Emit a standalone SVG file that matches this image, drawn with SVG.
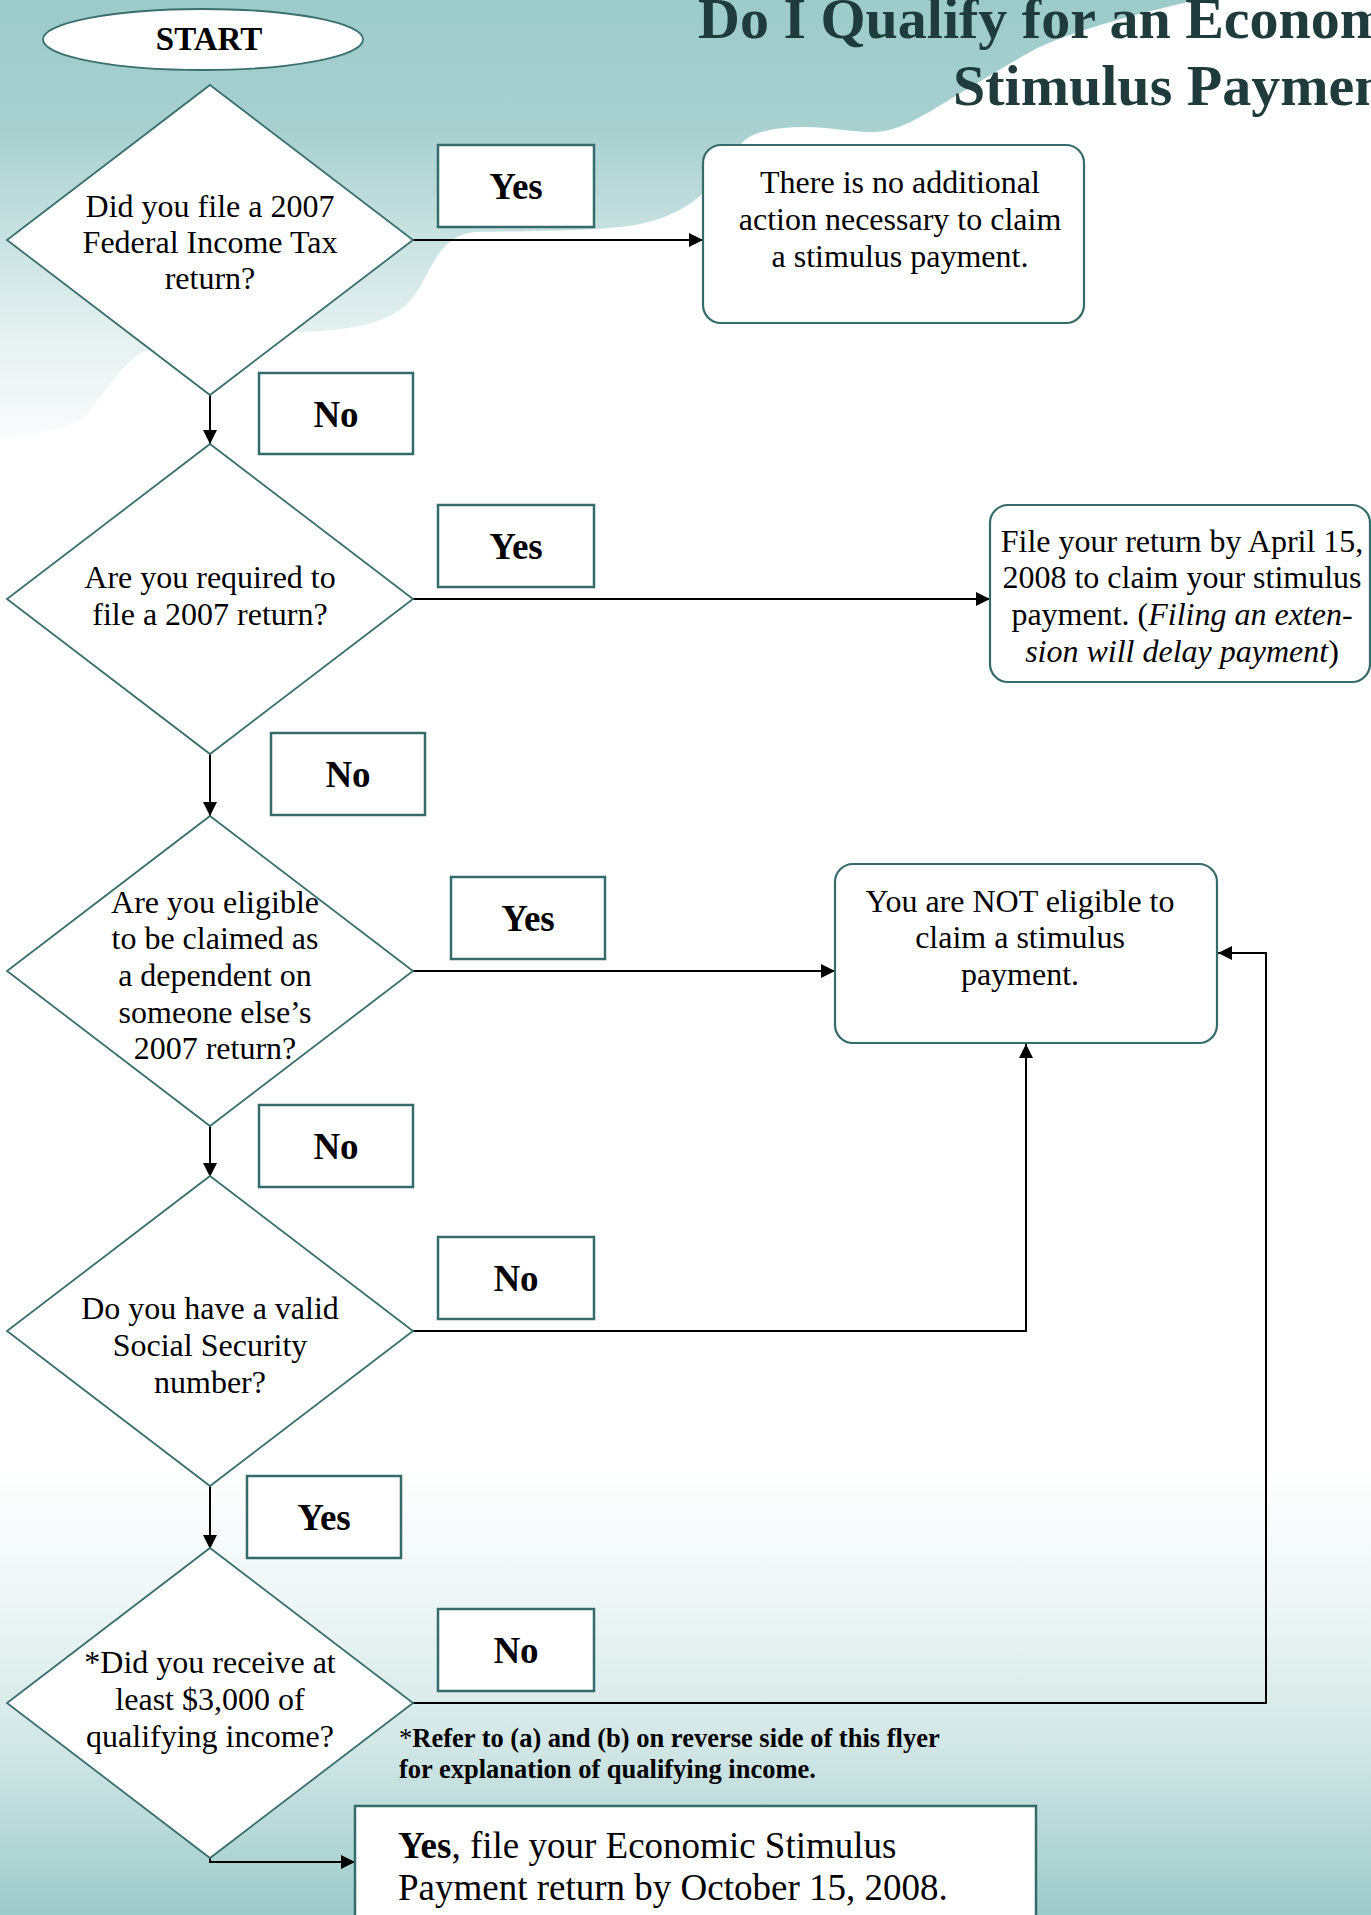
<svg xmlns="http://www.w3.org/2000/svg" width="1371" height="1915" viewBox="0 0 1371 1915">
<style>
.bg{fill:#ffffff}
.dia{fill:#ffffff;stroke:#3a6f6e;stroke-width:1.8}
.lbl{fill:#ffffff;stroke:#356b6b;stroke-width:2.5}
.rbox{fill:#ffffff;stroke:#356b6b;stroke-width:2.2}
.t{font-family:"Liberation Serif","Times New Roman",serif;font-size:32px;fill:#000000;text-anchor:middle}
.lt{font-family:"Liberation Serif","Times New Roman",serif;font-size:37px;font-weight:bold;fill:#000000;text-anchor:middle}
.title{font-family:"Liberation Serif","Times New Roman",serif;font-size:58px;font-weight:bold;fill:#1f3b3b}
.note{font-family:"Liberation Serif","Times New Roman",serif;font-size:26.5px;font-weight:bold;fill:#000000}
.big{font-family:"Liberation Serif","Times New Roman",serif;font-size:37px;fill:#000000}
.con{fill:none;stroke:#000000;stroke-width:2}
</style>
<defs>
<linearGradient id="gTop" gradientUnits="userSpaceOnUse" x1="0" y1="0" x2="0" y2="440">
<stop offset="0" stop-color="#9ccbca"/>
<stop offset="0.3" stop-color="#a8d1d0"/>
<stop offset="0.5" stop-color="#c3dfde"/>
<stop offset="0.75" stop-color="#e4f0f0"/>
<stop offset="1" stop-color="#fafcfc"/>
</linearGradient>
<linearGradient id="gBot" gradientUnits="userSpaceOnUse" x1="0" y1="1465" x2="0" y2="1915">
<stop offset="0" stop-color="#ffffff"/>
<stop offset="0.3" stop-color="#eef6f6"/>
<stop offset="0.62" stop-color="#d2e7e6"/>
<stop offset="1" stop-color="#9ccbca"/>
</linearGradient>
<marker id="arr" markerUnits="userSpaceOnUse" markerWidth="14" markerHeight="14" refX="14" refY="7" orient="auto">
<path d="M0,0 L14,7 L0,14 Z" fill="#000000"/>
</marker>
</defs>

<g id="background">
<rect class="bg" x="0" y="0" width="1371" height="1915"/>
<path fill="url(#gTop)" d="M0,0 L1197,0 C1130,15 1060,35 1030,52 C990,75 962,92 944,103 C920,118 895,132 875,132 C850,132 822,126 800,127 C772,128 755,132 745,140 C726,158 712,190 691,203 C676,213 660,220 640,224 C610,230 560,231 476,232 C460,233 448,240 438,255 C428,270 418,295 405,306 C390,318 368,328 321,331 C260,334 180,340 143,352 C125,360 108,390 86,414 C70,428 40,435 0,438 Z"/>
<rect fill="url(#gBot)" x="0" y="1465" width="1371" height="450"/>
</g>

<g id="title">
<text class="title" x="698" y="38">Do I Qualify for an Economic</text>
<text class="title" x="953" y="105">Stimulus Payment?</text>
</g>

<g id="connectors">
<path class="con" d="M413,240 L703,240" marker-end="url(#arr)"/>
<path class="con" d="M210,395 L210,444" marker-end="url(#arr)"/>
<path class="con" d="M413,599 L990,599" marker-end="url(#arr)"/>
<path class="con" d="M210,754 L210,816" marker-end="url(#arr)"/>
<path class="con" d="M413,971 L835,971" marker-end="url(#arr)"/>
<path class="con" d="M210,1126 L210,1177" marker-end="url(#arr)"/>
<path class="con" d="M413,1331 L1026,1331 L1026,1044" marker-end="url(#arr)"/>
<path class="con" d="M210,1486 L210,1549" marker-end="url(#arr)"/>
<path class="con" d="M413,1703 L1266,1703 L1266,953 L1218,953" marker-end="url(#arr)"/>
<path class="con" d="M210,1857 L210,1862 L355,1862" marker-end="url(#arr)"/>
</g>

<g id="start">
<ellipse class="dia" cx="203" cy="39.5" rx="160" ry="30.5"/>
<text class="lt" x="209" y="50" style="font-size:33px">START</text>
</g>

<g id="q1">
<polygon class="dia" points="210,85 413,240 210,395 7,240"/>
<text class="t" x="210" y="217">Did you file a 2007</text>
<text class="t" x="210" y="253">Federal Income Tax</text>
<text class="t" x="210" y="289">return?</text>
</g>

<g id="q2">
<polygon class="dia" points="210,444 413,599 210,754 7,599"/>
<text class="t" x="210" y="588">Are you required to</text>
<text class="t" x="210" y="625">file a 2007 return?</text>
</g>

<g id="q3">
<polygon class="dia" points="210,816 413,971 210,1126 7,971"/>
<text class="t" x="215" y="913">Are you eligible</text>
<text class="t" x="215" y="949">to be claimed as</text>
<text class="t" x="215" y="986">a dependent on</text>
<text class="t" x="215" y="1023">someone else’s</text>
<text class="t" x="215" y="1059">2007 return?</text>
</g>

<g id="q4">
<polygon class="dia" points="210,1176 413,1331 210,1486 7,1331"/>
<text class="t" x="210" y="1319">Do you have a valid</text>
<text class="t" x="210" y="1356">Social Security</text>
<text class="t" x="210" y="1393">number?</text>
</g>

<g id="q5">
<polygon class="dia" points="210,1548 413,1703 210,1858 7,1703"/>
<text class="t" x="210" y="1673">*Did you receive at</text>
<text class="t" x="210" y="1710">least $3,000 of</text>
<text class="t" x="210" y="1747">qualifying income?</text>
</g>

<g id="result-no-action">
<rect class="rbox" x="703" y="145" width="381" height="178" rx="18" ry="18"/>
<text class="t" x="900" y="193">There is no additional</text>
<text class="t" x="900" y="230">action necessary to claim</text>
<text class="t" x="900" y="267">a stimulus payment.</text>
</g>

<g id="result-file-by-april">
<rect class="rbox" x="990" y="505" width="380" height="177" rx="18" ry="18"/>
<text class="t" x="1182" y="552">File your return by April 15,</text>
<text class="t" x="1182" y="588">2008 to claim your stimulus</text>
<text class="t" x="1182" y="625">payment. (<tspan font-style="italic">Filing an exten-</tspan></text>
<text class="t" x="1182" y="662"><tspan font-style="italic">sion will delay payment</tspan>)</text>
</g>

<g id="result-not-eligible">
<rect class="rbox" x="835" y="864" width="382" height="179" rx="18" ry="18"/>
<text class="t" x="1020" y="912">You are NOT eligible to</text>
<text class="t" x="1020" y="948">claim a stimulus</text>
<text class="t" x="1020" y="985">payment.</text>
</g>

<g id="result-yes">
<rect class="lbl" x="355" y="1806" width="681" height="130"/>
<text class="big" x="398" y="1858"><tspan font-weight="bold">Yes</tspan>, file your Economic Stimulus</text>
<text class="big" x="398" y="1900">Payment return by October 15, 2008.</text>
</g>

<g id="footnote">
<text class="note" x="399" y="1747"><tspan font-weight="normal">*</tspan>Refer to (a) and (b) on reverse side of this flyer</text>
<text class="note" x="399" y="1778">for explanation of qualifying income.</text>
</g>

<g id="label-yes-1"><rect class="lbl" x="438" y="145" width="156" height="82"/><text class="lt" x="516" y="199">Yes</text></g>
<g id="label-no-1"><rect class="lbl" x="259" y="373" width="154" height="81"/><text class="lt" x="336" y="427">No</text></g>
<g id="label-yes-2"><rect class="lbl" x="438" y="505" width="156" height="82"/><text class="lt" x="516" y="559">Yes</text></g>
<g id="label-no-2"><rect class="lbl" x="271" y="733" width="154" height="82"/><text class="lt" x="348" y="787">No</text></g>
<g id="label-yes-3"><rect class="lbl" x="451" y="877" width="154" height="82"/><text class="lt" x="528" y="931">Yes</text></g>
<g id="label-no-3"><rect class="lbl" x="259" y="1105" width="154" height="82"/><text class="lt" x="336" y="1159">No</text></g>
<g id="label-no-4"><rect class="lbl" x="438" y="1237" width="156" height="82"/><text class="lt" x="516" y="1291">No</text></g>
<g id="label-yes-5"><rect class="lbl" x="247" y="1476" width="154" height="82"/><text class="lt" x="324" y="1530">Yes</text></g>
<g id="label-no-5"><rect class="lbl" x="438" y="1609" width="156" height="82"/><text class="lt" x="516" y="1663">No</text></g>
</svg>
